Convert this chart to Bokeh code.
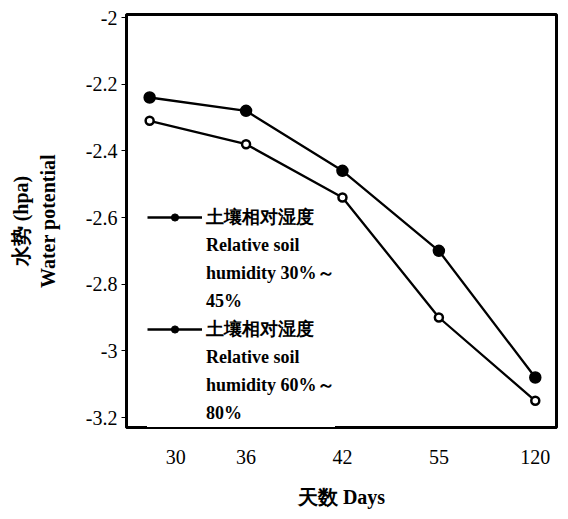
from bokeh.plotting import figure
from bokeh.models import Range1d, FixedTicker, Legend, LegendItem
from bokeh.embed import file_html
from bokeh.resources import INLINE

days = ["30", "36", "42", "55", "120"]
low_humidity = [-2.31, -2.38, -2.54, -2.90, -3.15]   # 30%~45%
high_humidity = [-2.24, -2.28, -2.46, -2.70, -3.08]  # 60%~80%
y_ticks = [-2.0, -2.2, -2.4, -2.6, -2.8, -3.0, -3.2]
y_tick_labels = ["-2", "-2.2", "-2.4", "-2.6", "-2.8", "-3", "-3.2"]
label_low = ["土壤相对湿度", "Relative soil", "humidity 30%～", "45%"]
label_high = ["土壤相对湿度", "Relative soil", "humidity 60%～", "80%"]

FONT = "Liberation Serif"
NAN = float("nan")
xs = list(range(len(days)))
# in the original the "30" label sits a little right of its points
x_label_pos = [0.27, 1, 2, 3, 4]

p = figure(width=560, height=510, output_backend="svg", toolbar_location=None,
           x_range=Range1d(-0.24, 4.22), y_range=Range1d(-3.23, -1.991),
           min_border_left=126, min_border_right=4, min_border_top=14, min_border_bottom=83)
p.grid.visible = False
p.outline_line_color = "black"
p.outline_line_width = 3
p.background_fill_color = "white"

r_low_line = p.line(xs, low_humidity, line_color="black", line_width=2.3)
r_low_pts = p.scatter(xs, low_humidity, size=8, marker="circle", fill_color="white",
                      line_color="black", line_width=2.5)
r_high_line = p.line(xs, high_humidity, line_color="black", line_width=2.3)
r_high_pts = p.scatter(xs, high_humidity, size=11, marker="circle", fill_color="black",
                       line_color="black", line_width=1.5)
# legend glyph stand-ins (filled dots as in the original legend), no visible data
lg_low = p.scatter([0], [NAN], size=7, marker="circle", fill_color="black", line_color="black")
lg_low_line = p.line([0, 1], [NAN, NAN], line_color="black", line_width=2.3)
lg_high = p.scatter([0], [NAN], size=9, marker="circle", fill_color="black", line_color="black")
lg_high_line = p.line([0, 1], [NAN, NAN], line_color="black", line_width=2.3)
blank = p.scatter([0], [NAN], size=1, fill_alpha=0, line_alpha=0)

p.xaxis.ticker = FixedTicker(ticks=x_label_pos)
p.xaxis.major_label_overrides = {pos: d for pos, d in zip(x_label_pos, days)}
p.xaxis.major_tick_out = 0
p.xaxis.major_tick_in = 0
p.xaxis.minor_tick_out = 0
p.xaxis.minor_tick_in = 0
p.xaxis.axis_line_width = 3
p.xaxis.major_label_standoff = 22
p.xaxis.axis_label = "天数 Days"
p.xaxis.axis_label_standoff = 19

p.yaxis.ticker = FixedTicker(ticks=y_ticks)
p.yaxis.major_label_overrides = {t: l for t, l in zip(y_ticks, y_tick_labels)}
p.yaxis.major_tick_out = 5
p.yaxis.major_tick_in = 0
p.yaxis.minor_tick_out = 0
p.yaxis.minor_tick_in = 0
p.yaxis.axis_line_width = 3
p.yaxis.major_label_standoff = 4
p.yaxis.axis_label = "水势 (hpa)\nWater potential"
p.yaxis.axis_label_standoff = 24

for ax in (p.xaxis[0], p.yaxis[0]):
    ax.major_label_text_font = FONT
    ax.major_label_text_font_size = "20px"
    ax.major_label_text_color = "black"
    ax.axis_label_text_font = FONT
    ax.axis_label_text_font_size = "20px"
    ax.axis_label_text_font_style = "bold"
    ax.axis_label_text_color = "black"

items = []
for i, txt in enumerate(label_low):
    rs = [lg_low_line, lg_low] if i == 0 else [blank]
    items.append(LegendItem(label=txt, renderers=rs))
for i, txt in enumerate(label_high):
    rs = [lg_high_line, lg_high] if i == 0 else [blank]
    items.append(LegendItem(label=txt, renderers=rs))

legend = Legend(items=items, location=(21, 0))
legend.background_fill_color = "white"
legend.background_fill_alpha = 1.0
legend.border_line_color = None
legend.padding = 0
legend.margin = 0
legend.spacing = 0
legend.glyph_width = 55
legend.glyph_height = 18
legend.label_height = 28
legend.label_standoff = 4
legend.label_text_font = FONT
legend.label_text_font_size = "18px"
legend.label_text_font_style = "bold"
legend.label_text_color = "black"
p.add_layout(legend, "center")

open("out.html", "w").write(file_html(p, INLINE))
